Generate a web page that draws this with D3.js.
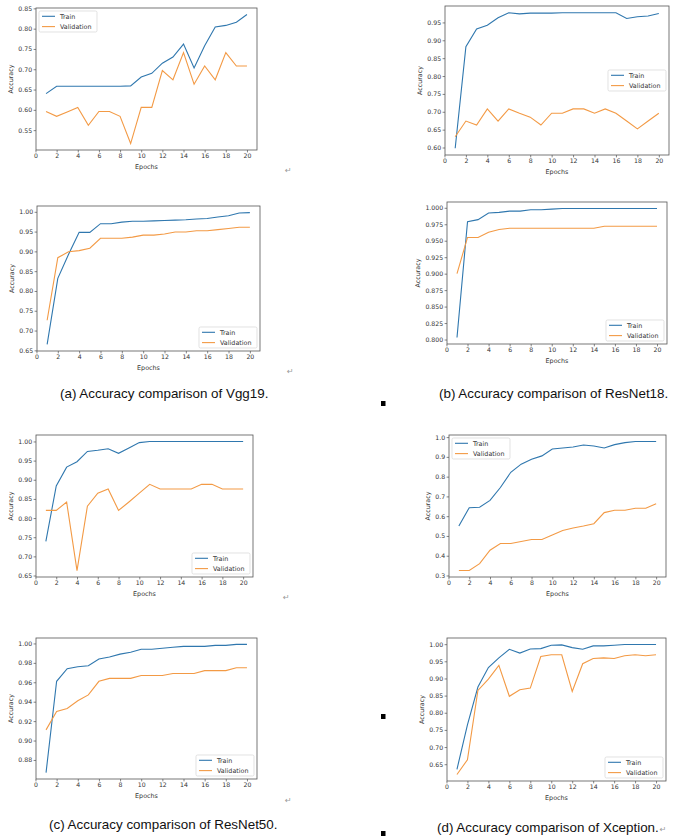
<!DOCTYPE html>
<html>
<head>
<meta charset="utf-8">
<title>Accuracy comparison</title>
<script src="https://cdn.jsdelivr.net/npm/d3@7"></script>
<style>
  body { margin: 0; background: #fff; }
  svg { display: block; }
  .tick text { font-family: "DejaVu Sans", sans-serif; font-size: 6.2px; fill: #333; }
  .lab { font-family: "DejaVu Sans", sans-serif; font-size: 6.4px; fill: #333; }
  .cap { font-family: "Liberation Sans", Arial, sans-serif; font-size: 13.4px; fill: #111; }
  .ret { font-family: "DejaVu Sans", sans-serif; font-size: 8px; fill: #999; }
</style>
</head>
<body>
<svg id="fig" width="688" height="838"></svg>
<script>
// epochs on the x axis
var epochs = [1,2,3,4,5,6,7,8,9,10,11,12,13,14,15,16,17,18,19,20];
var xTicks = [0,2,4,6,8,10,12,14,16,18,20];

// row 1 left
var r1lTrain = [0.640,0.658,0.658,0.658,0.658,0.658,0.658,0.658,0.659,0.681,0.690,0.715,0.730,0.762,0.703,0.758,0.804,0.808,0.816,0.835];
var r1lVal   = [0.596,0.584,0.595,0.606,0.562,0.596,0.596,0.584,0.517,0.606,0.606,0.697,0.674,0.741,0.663,0.708,0.674,0.741,0.708,0.708];
var r1lTicks = [0.55,0.60,0.65,0.70,0.75,0.80,0.85];

// row 1 right
var r1rTrain = [0.598,0.882,0.932,0.942,0.963,0.977,0.974,0.976,0.976,0.976,0.977,0.977,0.977,0.977,0.977,0.977,0.961,0.966,0.968,0.975];
var r1rVal   = [0.630,0.674,0.663,0.708,0.674,0.708,0.696,0.685,0.663,0.696,0.696,0.708,0.708,0.696,0.708,0.696,0.674,0.652,0.674,0.696];
var r1rTicks = [0.60,0.65,0.70,0.75,0.80,0.85,0.90,0.95];

// row 2 left (Vgg19)
var vggTrain = [0.665,0.832,0.892,0.948,0.948,0.970,0.970,0.974,0.976,0.976,0.977,0.978,0.979,0.980,0.982,0.983,0.987,0.990,0.997,0.998];
var vggVal   = [0.726,0.884,0.899,0.902,0.908,0.933,0.933,0.933,0.936,0.941,0.941,0.944,0.949,0.949,0.952,0.952,0.955,0.958,0.961,0.961];
var vggTicks = [0.65,0.70,0.75,0.80,0.85,0.90,0.95,1.00];

// row 2 right (ResNet18)
var r18Train = [0.803,0.979,0.982,0.992,0.993,0.995,0.995,0.997,0.997,0.998,0.999,0.999,0.999,0.999,0.999,0.999,0.999,0.999,0.999,0.999];
var r18Val   = [0.900,0.955,0.955,0.963,0.967,0.969,0.969,0.969,0.969,0.969,0.969,0.969,0.969,0.969,0.972,0.972,0.972,0.972,0.972,0.972];
var r18Ticks = [0.800,0.825,0.850,0.875,0.900,0.925,0.950,0.975,1.000];

// row 3 left
var r3lTrain = [0.739,0.884,0.933,0.947,0.974,0.977,0.981,0.969,0.983,0.997,1.000,1.000,1.000,1.000,1.000,1.000,1.000,1.000,1.000,1.000];
var r3lVal   = [0.820,0.820,0.842,0.663,0.831,0.865,0.876,0.820,0.842,0.865,0.888,0.876,0.876,0.876,0.876,0.888,0.888,0.876,0.876,0.876];
var r3lTicks = [0.65,0.70,0.75,0.80,0.85,0.90,0.95,1.00];

// row 3 right
var r3rTrain = [0.550,0.643,0.645,0.680,0.745,0.822,0.863,0.888,0.905,0.940,0.945,0.950,0.960,0.955,0.945,0.962,0.972,0.978,0.978,0.978];
var r3rVal   = [0.325,0.325,0.360,0.428,0.462,0.462,0.472,0.482,0.482,0.505,0.528,0.540,0.550,0.562,0.618,0.630,0.630,0.640,0.640,0.663];
var r3rTicks = [0.3,0.4,0.5,0.6,0.7,0.8,0.9,1.0];

// row 4 left (ResNet50)
var r50Train = [0.867,0.961,0.974,0.976,0.977,0.984,0.986,0.989,0.991,0.994,0.994,0.995,0.996,0.997,0.997,0.997,0.998,0.998,0.999,0.999];
var r50Val   = [0.911,0.930,0.933,0.941,0.947,0.961,0.964,0.964,0.964,0.967,0.967,0.967,0.969,0.969,0.969,0.972,0.972,0.972,0.975,0.975];
var r50Ticks = [0.88,0.90,0.92,0.94,0.96,0.98,1.00];

// row 4 right (Xception)
var xcTrain = [0.635,0.765,0.875,0.932,0.960,0.985,0.974,0.986,0.987,0.997,0.998,0.990,0.985,0.995,0.995,0.997,0.999,0.999,0.999,0.999];
var xcVal   = [0.620,0.663,0.865,0.898,0.938,0.848,0.867,0.872,0.964,0.969,0.969,0.862,0.943,0.958,0.960,0.958,0.966,0.969,0.966,0.969];
var xcTicks = [0.65,0.70,0.75,0.80,0.85,0.90,0.95,1.00];

var captions = ["(a) Accuracy comparison of Vgg19.", "(b) Accuracy comparison of ResNet18.",
                "(c) Accuracy comparison of ResNet50.", "(d) Accuracy comparison of Xception."];

var trainColor = "#2f77ae";
var valColor = "#f39a45";

var svg = d3.select("#fig");

var charts = [
  {box: [36, 8, 257, 150],   train: r1lTrain, val: r1lVal, ticks: r1lTicks, dec: 2, loc: "upper left"},
  {box: [445, 6, 669, 155],  train: r1rTrain, val: r1rVal, ticks: r1rTicks, dec: 2, loc: "center right"},
  {box: [37, 206, 260, 351], train: vggTrain, val: vggVal, ticks: vggTicks, dec: 2, loc: "lower right"},
  {box: [447, 202, 667, 344],train: r18Train, val: r18Val, ticks: r18Ticks, dec: 3, loc: "lower right"},
  {box: [36, 435, 253, 577], train: r3lTrain, val: r3lVal, ticks: r3lTicks, dec: 2, loc: "lower right"},
  {box: [449, 435, 666, 577],train: r3rTrain, val: r3rVal, ticks: r3rTicks, dec: 1, loc: "upper left"},
  {box: [36, 638, 257, 779], train: r50Train, val: r50Val, ticks: r50Ticks, dec: 2, loc: "lower right"},
  {box: [447, 638, 666, 781],train: xcTrain, val: xcVal, ticks: xcTicks, dec: 2, loc: "lower right"}
];

charts.forEach(drawChart);

function drawChart(c) {
  var x0 = c.box[0], y0 = c.box[1], w = c.box[2] - c.box[0], h = c.box[3] - c.box[1];
  var g = svg.append("g").attr("transform", "translate(" + x0 + "," + y0 + ")");

  // matplotlib style 5% margins
  var all = c.train.concat(c.val);
  var lo = d3.min(all), hi = d3.max(all), m = (hi - lo) * 0.05;

  var x = d3.scaleLinear().domain([0.05, 20.95]).range([0, w]);
  var y = d3.scaleLinear().domain([lo - m, hi + m]).range([h, 0]);

  var xa = g.append("g").attr("transform", "translate(0," + h + ")")
    .call(d3.axisBottom(x).tickValues(xTicks).tickSize(2.4).tickPadding(1.5).tickFormat(d3.format("d")));
  var ya = g.append("g")
    .call(d3.axisLeft(y).tickValues(c.ticks).tickSize(2.4).tickPadding(1.5).tickFormat(d3.format("." + c.dec + "f")));
  [xa, ya].forEach(function(a) {
    a.select(".domain").remove();
    a.selectAll(".tick line").attr("stroke", "#333").attr("stroke-width", 0.6);
    a.attr("font-family", null).attr("font-size", null);
  });

  var line = d3.line().x(function(d, i) { return x(epochs[i]); }).y(function(d) { return y(d); });
  g.append("path").datum(c.train).attr("d", line)
    .attr("fill", "none").attr("stroke", trainColor).attr("stroke-width", 1.1);
  g.append("path").datum(c.val).attr("d", line)
    .attr("fill", "none").attr("stroke", valColor).attr("stroke-width", 1.1);

  // frame
  g.append("rect").attr("width", w).attr("height", h)
    .attr("fill", "none").attr("stroke", "#555").attr("stroke-width", 0.8);

  // axis labels
  var lw = d3.max(ya.selectAll(".tick text").nodes(), function(n) { return n.getBBox().width; });
  g.append("text").attr("class", "lab").attr("x", w / 2).attr("y", h + 19)
    .attr("text-anchor", "middle").text("Epochs");
  g.append("text").attr("class", "lab")
    .attr("transform", "translate(" + (-(lw + 9)) + "," + (h / 2) + ") rotate(-90)")
    .attr("text-anchor", "middle").text("Accuracy");

  // legend
  var bw = 58, bh = 21, pad = 3;
  var lx = c.loc == "upper left" ? pad : w - pad - bw;
  var ly = c.loc == "upper left" ? pad : (c.loc == "center right" ? (h - bh) / 2 : h - pad - bh);
  var lg = g.append("g").attr("transform", "translate(" + lx + "," + ly + ")");
  lg.append("rect").attr("width", bw).attr("height", bh).attr("rx", 1.5)
    .attr("fill", "#fff").attr("fill-opacity", 0.85).attr("stroke", "#d6d6d6").attr("stroke-width", 0.7);
  [["Train", trainColor], ["Validation", valColor]].forEach(function(e, i) {
    var ry = 5.3 + i * 10.3;
    lg.append("line").attr("x1", 3).attr("x2", 16).attr("y1", ry).attr("y2", ry)
      .attr("stroke", e[1]).attr("stroke-width", 1.1);
    lg.append("text").attr("class", "lab").attr("x", 21).attr("y", ry + 2.2).text(e[0]);
  });
}

// captions
svg.append("text").attr("class", "cap").attr("x", 60).attr("y", 398).text(captions[0]);
svg.append("text").attr("class", "cap").attr("x", 439).attr("y", 398).text(captions[1]);
svg.append("text").attr("class", "cap").attr("x", 49).attr("y", 829).text(captions[2]);
var capD = svg.append("text").attr("class", "cap").attr("x", 437).attr("y", 832).text(captions[3]);
var endD = 437 + capD.node().getComputedTextLength();

// paragraph marks and square bullets from the document
[[285, 173], [287, 374], [283, 600], [285, 803], [endD + 1, 832]].forEach(function(p) {
  svg.append("text").attr("class", "ret").attr("x", p[0]).attr("y", p[1]).text("\u21b5");
});
[[381, 401], [381, 714], [381, 831]].forEach(function(p) {
  svg.append("rect").attr("x", p[0]).attr("y", p[1]).attr("width", 4.5).attr("height", 5).attr("fill", "#000");
});
</script>
</body>
</html>
